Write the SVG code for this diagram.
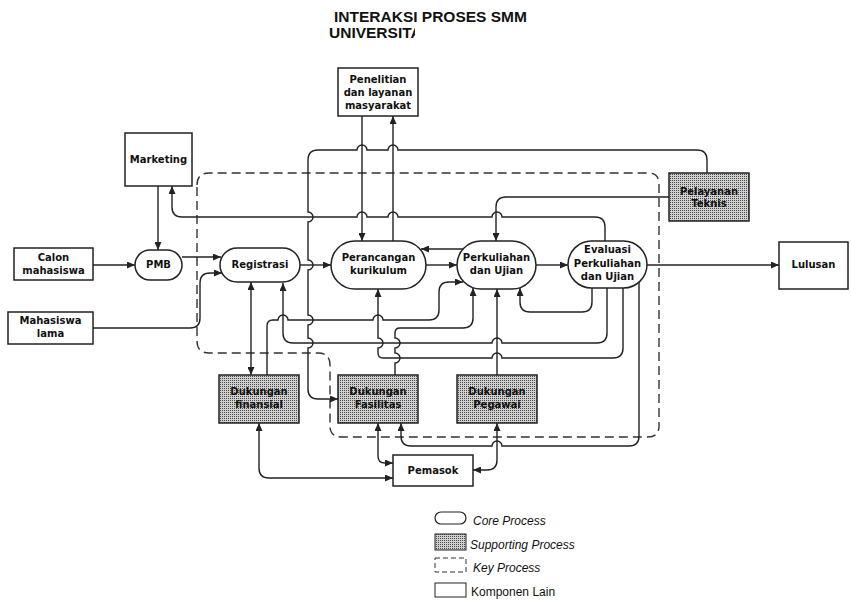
<svg xmlns="http://www.w3.org/2000/svg" width="851" height="601" viewBox="0 0 851 601">
<defs>
<style>
.t{font-family:"DejaVu Sans",Verdana,sans-serif;font-weight:bold;font-size:10px;fill:#111;text-anchor:middle}
.box{fill:#fff;stroke:#222;stroke-width:1.5}
.sup{fill:url(#hatch);stroke:#222;stroke-width:1.5}
.pill{fill:#fff;stroke:#222;stroke-width:1.5}
.c{fill:none;stroke:#222;stroke-width:1.4}
.dash{fill:none;stroke:#333;stroke-width:1.4;stroke-dasharray:9 5}
.lg{font-family:"Liberation Sans",Arial,sans-serif;font-size:12px;fill:#111}
.title{font-family:"Liberation Sans",Arial,sans-serif;font-weight:bold;font-size:15.5px;fill:#111}
</style>
<pattern id="hatch" width="2" height="2" patternUnits="userSpaceOnUse">
<rect width="2" height="2" fill="#cfcfcf"/>
<rect width="1" height="1" fill="#4a4a4a"/>
</pattern>
<marker id="arr" viewBox="0 0 8 7" refX="8" refY="3.5" markerWidth="8" markerHeight="7" markerUnits="userSpaceOnUse" orient="auto-start-reverse">
<path d="M0,0 L8,3.5 L0,7 z" fill="#222"/>
</marker>
<clipPath id="tclip"><rect x="0" y="0" width="415" height="60"/></clipPath>
</defs>

<g id="title">
<text class="title" x="334" y="22">INTERAKSI PROSES SMM</text>
<text class="title" x="329" y="38" clip-path="url(#tclip)">UNIVERSITA</text>
</g>

<g id="key-process">
<path class="dash" d="M197,185 Q197,173 209,173 H648 Q659,173 659,184 V426 Q659,437 648,437 H342 Q330,437 330,426 V365 Q330,353 318,353 H209 Q197,353 197,341 Z"/>
</g>

<g id="connectors">
<path class="c" d="M93,265 H135" marker-end="url(#arr)"/>
<path class="c" d="M158,186 V250" marker-end="url(#arr)"/>
<path class="c" d="M182,257 H221" marker-end="url(#arr)"/>
<path class="c" d="M93,328 H190 Q200,328 200,318 V283 Q200,273 210,273 H222" marker-end="url(#arr)"/>
<path class="c" d="M300,265 H331" marker-end="url(#arr)"/>
<path class="c" d="M426,265 H457" marker-end="url(#arr)"/>
<path class="c" d="M463,249 H421" marker-end="url(#arr)"/>
<path class="c" d="M536,265 H568" marker-end="url(#arr)"/>
<path class="c" d="M647,265 H779" marker-end="url(#arr)"/>
<path class="c" d="M362,116 V241" marker-end="url(#arr)"/>
<path class="c" d="M393,241 V116" marker-end="url(#arr)"/>
<path class="c" d="M605,241 V227 Q605,217 595,217 H502 A5,5 0 0 0 492,217 H398 A5,5 0 0 0 388,217 H367 A5,5 0 0 0 357,217 H182 Q172,217 172,207 V186" marker-end="url(#arr)"/>
<path class="c" d="M707,173 V160 Q707,150 697,150 H398 A5,5 0 0 0 388,150 H367 A5,5 0 0 0 357,150 H318 Q308,150 308,160 V212 A5,5 0 0 1 308,222 V260 A5,5 0 0 1 308,270 V315 A5,5 0 0 1 308,325 V338 A5,5 0 0 1 308,348 V389 Q308,399 318,399 H338" marker-end="url(#arr)"/>
<path class="c" d="M669,197 H506 Q496,197 496,207 V241" marker-end="url(#arr)"/>
<path class="c" d="M251,282 V375" marker-start="url(#arr)" marker-end="url(#arr)"/>
<path class="c" d="M267,375 V326 Q267,320 273,320 H278 A5,5 0 0 1 288,320 H373 A5,5 0 0 1 383,320 H429 Q439,320 439,310 V292 Q439,282 449,282 H463" marker-end="url(#arr)"/>
<path class="c" d="M607,288 V333 Q607,343 597,343 H502 A5,5 0 0 0 492,343 H293 Q283,343 283,333 V283" marker-end="url(#arr)"/>
<path class="c" d="M592,287 V302 Q592,312 582,312 H530 Q520,312 520,302 V288" marker-end="url(#arr)"/>
<path class="c" d="M623,288 V348 Q623,358 613,358 H502 A5,5 0 0 0 492,358 H383 Q378,358 378,353 V348 A5,5 0 0 0 378,338 V289" marker-end="url(#arr)"/>
<path class="c" d="M395,375 V363 A5,5 0 0 0 395,353 V348 A5,5 0 0 0 395,338 V333 Q395,328 400,328 H463 Q473,328 473,318 V288" marker-end="url(#arr)"/>
<path class="c" d="M497,375 V289" marker-end="url(#arr)"/>
<path class="c" d="M639,282 V436 Q639,446 629,446 H502 A5,5 0 0 0 492,446 H411 Q401,446 401,436 V423" marker-end="url(#arr)"/>
<path class="c" d="M473,470 H487 Q497,470 497,460 V423" marker-start="url(#arr)" marker-end="url(#arr)"/>
<path class="c" d="M378,423 V456 Q378,463 385,463 H393" marker-start="url(#arr)" marker-end="url(#arr)"/>
<path class="c" d="M259,423 V468 Q259,478 269,478 H393" marker-start="url(#arr)" marker-end="url(#arr)"/>
</g>

<g id="penelitian">
<rect class="box" x="338" y="68" width="80" height="48"/>
<text class="t" x="378" y="82.5">Penelitian</text>
<text class="t" x="378" y="95.5">dan layanan</text>
<text class="t" x="378" y="108.5">masyarakat</text>
</g>
<g id="marketing">
<rect class="box" x="125" y="133" width="67" height="53"/>
<text class="t" x="158.5" y="163">Marketing</text>
</g>
<g id="calon-mahasiswa">
<rect class="box" x="14" y="248" width="79" height="32"/>
<text class="t" x="53.5" y="261">Calon</text>
<text class="t" x="53.5" y="274">mahasiswa</text>
</g>
<g id="mahasiswa-lama">
<rect class="box" x="8" y="312" width="85" height="32"/>
<text class="t" x="50.5" y="324">Mahasiswa</text>
<text class="t" x="50.5" y="337">lama</text>
</g>
<g id="pmb">
<rect class="pill" x="135" y="250" width="47" height="30" rx="15"/>
<text class="t" x="158.5" y="268">PMB</text>
</g>
<g id="registrasi">
<rect class="pill" x="220" y="248" width="80" height="34" rx="17"/>
<text class="t" x="260" y="268">Registrasi</text>
</g>
<g id="perancangan">
<rect class="pill" x="331" y="241" width="95" height="48" rx="24"/>
<text class="t" x="378.5" y="261">Perancangan</text>
<text class="t" x="378.5" y="274">kurikulum</text>
</g>
<g id="perkuliahan">
<rect class="pill" x="457" y="241" width="79" height="48" rx="24"/>
<text class="t" x="496.5" y="261">Perkuliahan</text>
<text class="t" x="496.5" y="274">dan Ujian</text>
</g>
<g id="evaluasi">
<rect class="pill" x="568" y="241" width="79" height="47" rx="23.5"/>
<text class="t" x="607.5" y="253">Evaluasi</text>
<text class="t" x="607.5" y="267">Perkuliahan</text>
<text class="t" x="607.5" y="280">dan Ujian</text>
</g>
<g id="lulusan">
<rect class="box" x="779" y="242" width="69" height="47"/>
<text class="t" x="813.5" y="268">Lulusan</text>
</g>
<g id="pelayanan-teknis">
<rect class="sup" x="669" y="173" width="80" height="48"/>
<text class="t" x="709" y="195">Pelayanan</text>
<text class="t" x="709" y="207">Teknis</text>
</g>
<g id="dukungan-finansial">
<rect class="sup" x="219" y="375" width="80" height="48"/>
<text class="t" x="259" y="395">Dukungan</text>
<text class="t" x="259" y="408">finansial</text>
</g>
<g id="dukungan-fasilitas">
<rect class="sup" x="338" y="375" width="80" height="48"/>
<text class="t" x="378" y="395">Dukungan</text>
<text class="t" x="378" y="408">Fasilitas</text>
</g>
<g id="dukungan-pegawai">
<rect class="sup" x="457" y="375" width="80" height="48"/>
<text class="t" x="497" y="395">Dukungan</text>
<text class="t" x="497" y="408">Pegawai</text>
</g>
<g id="pemasok">
<rect class="box" x="393" y="455" width="80" height="31"/>
<text class="t" x="433" y="474">Pemasok</text>
</g>

<g id="legend">
<rect x="435" y="512" width="31" height="12" rx="6" fill="#fff" stroke="#222" stroke-width="1.2"/>
<text class="lg" x="473" y="525" font-style="italic">Core Process</text>
<rect x="435" y="534" width="31" height="16" fill="url(#hatch)" stroke="#222" stroke-width="1"/>
<text class="lg" x="470" y="549" font-style="italic">Supporting Process</text>
<rect x="435" y="558" width="31" height="14" fill="none" stroke="#333" stroke-width="1" stroke-dasharray="5 3"/>
<text class="lg" x="473" y="572" font-style="italic">Key Process</text>
<rect x="435" y="583" width="31" height="14" fill="#fff" stroke="#222" stroke-width="1"/>
<text class="lg" x="471" y="596">Komponen Lain</text>
</g>
</svg>
